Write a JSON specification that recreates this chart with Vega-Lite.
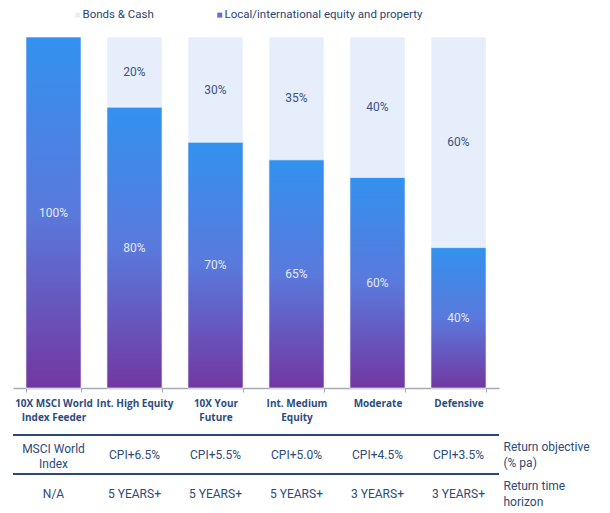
{
  "$schema": "https://vega.github.io/schema/vega-lite/v6.json",
  "background": "white",
  "padding": {"left": 12, "top": 9, "right": 0, "bottom": 6},
  "bounds": "flush",
  "spacing": 47,
  "config": {"view": {"stroke": null}, "font": "Roboto"},
  "vconcat": [
    {
      "width": 486,
      "height": 351,
      "data": {
        "values": [
          {"fund": "10X MSCI World\nIndex Feeder", "series": "Local/international equity and property", "share": 1.0},
          {"fund": "Int. High Equity", "series": "Local/international equity and property", "share": 0.8},
          {"fund": "Int. High Equity", "series": "Bonds & Cash", "share": 0.2},
          {"fund": "10X Your\nFuture", "series": "Local/international equity and property", "share": 0.7},
          {"fund": "10X Your\nFuture", "series": "Bonds & Cash", "share": 0.3},
          {"fund": "Int. Medium\nEquity", "series": "Local/international equity and property", "share": 0.65},
          {"fund": "Int. Medium\nEquity", "series": "Bonds & Cash", "share": 0.35},
          {"fund": "Moderate", "series": "Local/international equity and property", "share": 0.6},
          {"fund": "Moderate", "series": "Bonds & Cash", "share": 0.4},
          {"fund": "Defensive", "series": "Local/international equity and property", "share": 0.4},
          {"fund": "Defensive", "series": "Bonds & Cash", "share": 0.6}
        ]
      },
      "encoding": {
        "x": {
          "field": "fund",
          "type": "nominal",
          "sort": null,
          "scale": {
            "domain": ["10X MSCI World\nIndex Feeder", "Int. High Equity", "10X Your\nFuture", "Int. Medium\nEquity", "Moderate", "Defensive"],
            "paddingInner": 0.32,
            "paddingOuter": 0.16
          },
          "axis": {
            "title": null,
            "labelAngle": 0,
            "labelExpr": "isValid(datum.value) ? split(datum.value, '\\n') : ''",
            "labelFont": "Open Sans",
            "labelFontWeight": "bold",
            "labelFontSize": 10,
            "labelColor": "#2D4C7D",
            "labelLineHeight": 14,
            "labelPadding": 6,
            "domainColor": "#A3AAB5",
            "domainWidth": 1.5,
            "tickColor": "#A3AAB5",
            "tickSize": 4,
            "tickBand": "extent"
          }
        }
      },
      "layer": [
        {
          "mark": {"type": "bar", "stroke": "#FFFFFF", "strokeWidth": 1, "strokeOpacity": 0.6},
          "encoding": {
            "y": {"field": "share", "type": "quantitative", "stack": "zero", "scale": {"domain": [0, 1]}, "axis": null},
            "color": {
              "field": "series",
              "type": "nominal",
              "scale": {
                "domain": ["Bonds & Cash", "Local/international equity and property"],
                "range": ["#E6EEFC", "#6270D8"]
              },
              "legend": {
                "orient": "none",
                "legendX": 59,
                "legendY": -28,
                "direction": "horizontal",
                "title": null,
                "symbolType": "square",
                "symbolSize": 25,
                "symbolStrokeWidth": 0,
                "labelFont": "Roboto",
                "labelFontSize": 11.5,
                "labelColor": "#2E4470",
                "labelLimit": 400,
                "labelOffset": -1,
                "columnPadding": 60,
                "padding": 0
              }
            },
            "order": {"field": "series", "sort": "descending"}
          }
        },
        {
          "transform": [{"filter": "datum.series !== 'Bonds & Cash'"}],
          "mark": {
            "type": "bar",
            "stroke": "#FFFFFF",
            "strokeWidth": 1,
            "strokeOpacity": 0.6,
            "color": {
              "gradient": "linear",
              "x1": 0, "y1": 0, "x2": 0, "y2": 1,
              "stops": [
                {"offset": 0, "color": "#3391EF"},
                {"offset": 0.5, "color": "#5A79DC"},
                {"offset": 1, "color": "#7237A1"}
              ]
            }
          },
          "encoding": {
            "y": {"field": "share", "type": "quantitative"}
          }
        },
        {
          "mark": {"type": "text", "font": "Roboto", "fontSize": 12, "baseline": "middle"},
          "encoding": {
            "y": {"field": "share", "type": "quantitative", "stack": "zero", "bandPosition": 0.5},
            "detail": {"field": "series"},
            "order": {"field": "series", "sort": "descending"},
            "text": {"field": "share", "format": ".0%"},
            "color": {
              "condition": {"test": "datum.series === 'Bonds & Cash'", "value": "#3B5283"},
              "value": "#E2EAF9"
            }
          }
        }
      ]
    },
    {
      "width": 486,
      "height": 78,
      "data": {
        "values": [
          {"fund": "10X MSCI World\nIndex Feeder", "row": "Return objective\n(% pa)", "text": "MSCI World\nIndex"},
          {"fund": "Int. High Equity", "row": "Return objective\n(% pa)", "text": "CPI+6.5%"},
          {"fund": "10X Your\nFuture", "row": "Return objective\n(% pa)", "text": "CPI+5.5%"},
          {"fund": "Int. Medium\nEquity", "row": "Return objective\n(% pa)", "text": "CPI+5.0%"},
          {"fund": "Moderate", "row": "Return objective\n(% pa)", "text": "CPI+4.5%"},
          {"fund": "Defensive", "row": "Return objective\n(% pa)", "text": "CPI+3.5%"},
          {"fund": "10X MSCI World\nIndex Feeder", "row": "Return time\nhorizon", "text": "N/A"},
          {"fund": "Int. High Equity", "row": "Return time\nhorizon", "text": "5 YEARS+"},
          {"fund": "10X Your\nFuture", "row": "Return time\nhorizon", "text": "5 YEARS+"},
          {"fund": "Int. Medium\nEquity", "row": "Return time\nhorizon", "text": "5 YEARS+"},
          {"fund": "Moderate", "row": "Return time\nhorizon", "text": "3 YEARS+"},
          {"fund": "Defensive", "row": "Return time\nhorizon", "text": "3 YEARS+"}
        ]
      },
      "encoding": {
        "x": {
          "field": "fund",
          "type": "nominal",
          "sort": null,
          "scale": {
            "domain": ["10X MSCI World\nIndex Feeder", "Int. High Equity", "10X Your\nFuture", "Int. Medium\nEquity", "Moderate", "Defensive"],
            "paddingInner": 0.32,
            "paddingOuter": 0.16
          },
          "axis": null
        },
        "y": {
          "field": "row",
          "type": "nominal",
          "sort": null,
          "scale": {
            "type": "band",
            "domain": ["Return objective\n(% pa)", "Return time\nhorizon"],
            "paddingInner": 0,
            "paddingOuter": 0
          },
          "axis": {
            "orient": "right",
            "title": null,
            "domain": false,
            "ticks": false,
            "labelExpr": "split(datum.value, '\\n')",
            "labelAlign": "left",
            "labelPadding": 4,
            "labelOffset": -8,
            "labelFont": "Roboto",
            "labelFontSize": 12,
            "labelColor": "#2D4A7A",
            "labelLineHeight": 16
          }
        }
      },
      "layer": [
        {
          "mark": {"type": "rule", "color": "#2B4A7B", "strokeWidth": 1.5},
          "encoding": {
            "x": null,
            "y": {"field": "row", "type": "nominal", "sort": null, "bandPosition": 0}
          }
        },
        {
          "transform": [{"filter": "indexof(datum.text, '\\n') < 0"}],
          "mark": {"type": "text", "font": "Roboto", "fontSize": 12, "color": "#2D4A7A"},
          "encoding": {"text": {"field": "text"}}
        },
        {
          "transform": [{"filter": "indexof(datum.text, '\\n') >= 0"}],
          "mark": {"type": "text", "font": "Roboto", "fontSize": 12, "color": "#2D4A7A", "lineBreak": "\n", "lineHeight": 15, "dy": -6},
          "encoding": {"text": {"field": "text"}}
        }
      ]
    }
  ]
}
